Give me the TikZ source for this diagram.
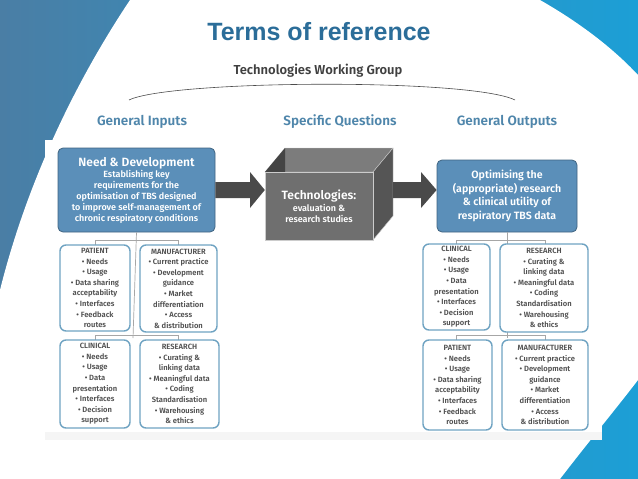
\documentclass[tikz,border=0pt]{standalone}
\usepackage{fontspec}
\setmainfont{Fira Sans}[BoldFont={Fira Sans SemiBold}]
\newfontfamily\titlefont{Liberation Sans}
\definecolor{ttl}{HTML}{2B6D99}
\definecolor{hdr}{HTML}{4F86AB}
\definecolor{bluebox}{HTML}{5B8FB9}
\definecolor{subedge}{HTML}{6FA3C2}
\definecolor{subtxt}{HTML}{505050}
\definecolor{cubefront}{HTML}{6F6F6F}
\definecolor{cubetop}{HTML}{7C7C7C}
\definecolor{cubeside}{HTML}{555555}
\definecolor{arr}{HTML}{4A4A4A}
\definecolor{cornerL}{HTML}{4A7EA5}
\definecolor{cornerR}{HTML}{1C9FD6}
\tikzset{
  header/.style={font=\bfseries\fontsize{13.5}{15}\selectfont, text=hdr},
  mainbox/.style={draw=bluebox!70!black, fill=bluebox, rounded corners=5pt, line width=0.8pt, text=white, align=center, font=\bfseries\fontsize{9}{11}\selectfont, inner sep=2pt},
  subbox/.style={draw=subedge, line width=1.4pt, rounded corners=6pt, fill=white, text=subtxt, align=center, font=\bfseries\fontsize{7.6}{10.6}\selectfont, inner sep=1pt},
  tree/.style={draw=gray!70, line width=0.7pt},
}
\begin{document}
\begin{tikzpicture}[x=1pt,y=-1pt]
\useasboundingbox (0,0) rectangle (638,479);
\shade[left color=cornerL, right color=cornerR] (0,0) rectangle (638,479);
\fill[white] (130,0) .. controls (70,90) and (25,190) .. (0,290) -- (0,479) -- (560,479)
  .. controls (590,440) and (615,410) .. (638,380) -- (638,75) .. controls (610,45) and (575,20) .. (540,0) -- cycle;
\fill[white] (45,140) rectangle (602,440);
\fill[gray!8] (45,432) rectangle (602,440);

\node[font=\titlefont\bfseries\fontsize{25}{28}\selectfont, text=ttl] (title) at (319,32) {Terms of reference};
\node[font=\bfseries\fontsize{13}{15}\selectfont, text=black!75] (twg) at (318,71) {Technologies Working Group};
\coordinate (arcL) at (129,100);
\coordinate (arcR) at (515,100);
\draw[black!70, line width=0.6pt] (arcL) .. controls (170,80) and (470,78) .. (arcR);

\node[header] (gi) at (142,122) {General Inputs};
\node[header] (sq) at (340,122) {Specific Questions};
\node[header] (go) at (507,122) {General Outputs};

% left side
\node[mainbox, minimum width=157pt, minimum height=84pt] (need) at (136.5,190) {{\fontsize{12}{14}\selectfont Need \& Development}\\Establishing key\\requirements for the\\optimisation of TBS designed\\to improve self-management of\\chronic respiratory conditions};
\coordinate (lt1) at (95,240); \coordinate (lt2) at (178,240);
\coordinate (lb1) at (95,335); \coordinate (lb2) at (178,335);
\coordinate (lstem) at (133,338);
\draw[tree] (need.south) -- (lstem);
\draw[tree] (lt1) -- (lt2); \draw[tree] (lb1) -- (lb2);
\draw[tree] (lt1) -- ++(0,5); \draw[tree] (lt2) -- ++(0,5);
\draw[tree] (lb1) -- ++(0,5); \draw[tree] (lb2) -- ++(0,5);
\node[subbox, minimum width=70pt, minimum height=86pt] (lpat) at (95,288) {PATIENT\\• Needs\\• Usage\\• Data sharing\\acceptability\\• Interfaces\\• Feedback\\routes};
\node[subbox, minimum width=77pt, minimum height=87pt] (lman) at (178.5,288.5) {MANUFACTURER\\• Current practice\\• Development\\guidance\\• Market\\differentiation\\• Access\\\& distribution};
\node[subbox, minimum width=70pt, minimum height=88pt] (lcli) at (95,384) {CLINICAL\\• Needs\\• Usage\\• Data\\presentation\\• Interfaces\\• Decision\\support};
\node[subbox, minimum width=79pt, minimum height=88pt] (lres) at (179.5,384) {RESEARCH\\• Curating \&\\linking data\\• Meaningful data\\• Coding\\Standardisation\\• Warehousing\\\& ethics};

% cube
\coordinate (f1) at (265,172); \coordinate (f2) at (373,172);
\coordinate (f3) at (373,240); \coordinate (f4) at (265,240);
\coordinate (b1) at (285,148); \coordinate (b2) at (393,148); \coordinate (b3) at (393,216);
\fill[cubetop, draw=gray!40] (f1) -- (b1) -- (b2) -- (f2) -- cycle;
\fill[cubeside, draw=gray!40] (f2) -- (b2) -- (b3) -- (f3) -- cycle;
\fill[cubeside!80!black] (f1) -- (b1) -- (285,172) -- cycle;
\node[fill=cubefront, draw=gray!40, minimum width=108pt, minimum height=68pt, text=white, align=center, font=\bfseries\fontsize{9}{11}\selectfont, inner sep=0pt] (cube) at (319,206) {{\fontsize{12}{15}\selectfont Technologies:}\\[1pt]evaluation \&\\research studies};

% right side
\node[mainbox, minimum width=140pt, minimum height=72pt, font=\bfseries\fontsize{10.6}{13.5}\selectfont] (opt) at (507,196) {Optimising the\\(appropriate) research\\\& clinical utility of\\respiratory TBS data};
\coordinate (rt1) at (456,240); \coordinate (rt2) at (545,240);
\coordinate (rb1) at (456,335); \coordinate (rb2) at (545,335);
\coordinate (rstem) at (507,338);
\draw[tree] (opt.south) -- (rstem);
\draw[tree] (rt1) -- (rt2); \draw[tree] (rb1) -- (rb2);
\draw[tree] (rt1) -- ++(0,5); \draw[tree] (rt2) -- ++(0,5);
\draw[tree] (rb1) -- ++(0,5); \draw[tree] (rb2) -- ++(0,5);
\node[subbox, minimum width=67pt, minimum height=86pt] (rcli) at (456.5,287) {CLINICAL\\• Needs\\• Usage\\• Data\\presentation\\• Interfaces\\• Decision\\support};
\node[subbox, minimum width=88pt, minimum height=88pt] (rres) at (544,288) {RESEARCH\\• Curating \&\\linking data\\• Meaningful data\\• Coding\\Standardisation\\• Warehousing\\\& ethics};
\node[subbox, minimum width=69pt, minimum height=90pt] (rpat) at (457.5,385) {PATIENT\\• Needs\\• Usage\\• Data sharing\\acceptability\\• Interfaces\\• Feedback\\routes};
\node[subbox, minimum width=86pt, minimum height=90pt] (rman) at (545,385) {MANUFACTURER\\• Current practice\\• Development\\guidance\\• Market\\differentiation\\• Access\\\& distribution};

% arrows
\fill[arr] (need.east |- 0,182) -- (250,182) -- (250,172) -- (cube.west |- 0,190) -- (250,208) -- (250,198) -- (need.east |- 0,198) -- cycle;
\fill[arr] (b3 |- 0,182) -- (421,182) -- (421,172) -- (opt.west |- 0,190) -- (421,208) -- (421,198) -- (b3 |- 0,198) -- cycle;
\end{tikzpicture}
\end{document}
